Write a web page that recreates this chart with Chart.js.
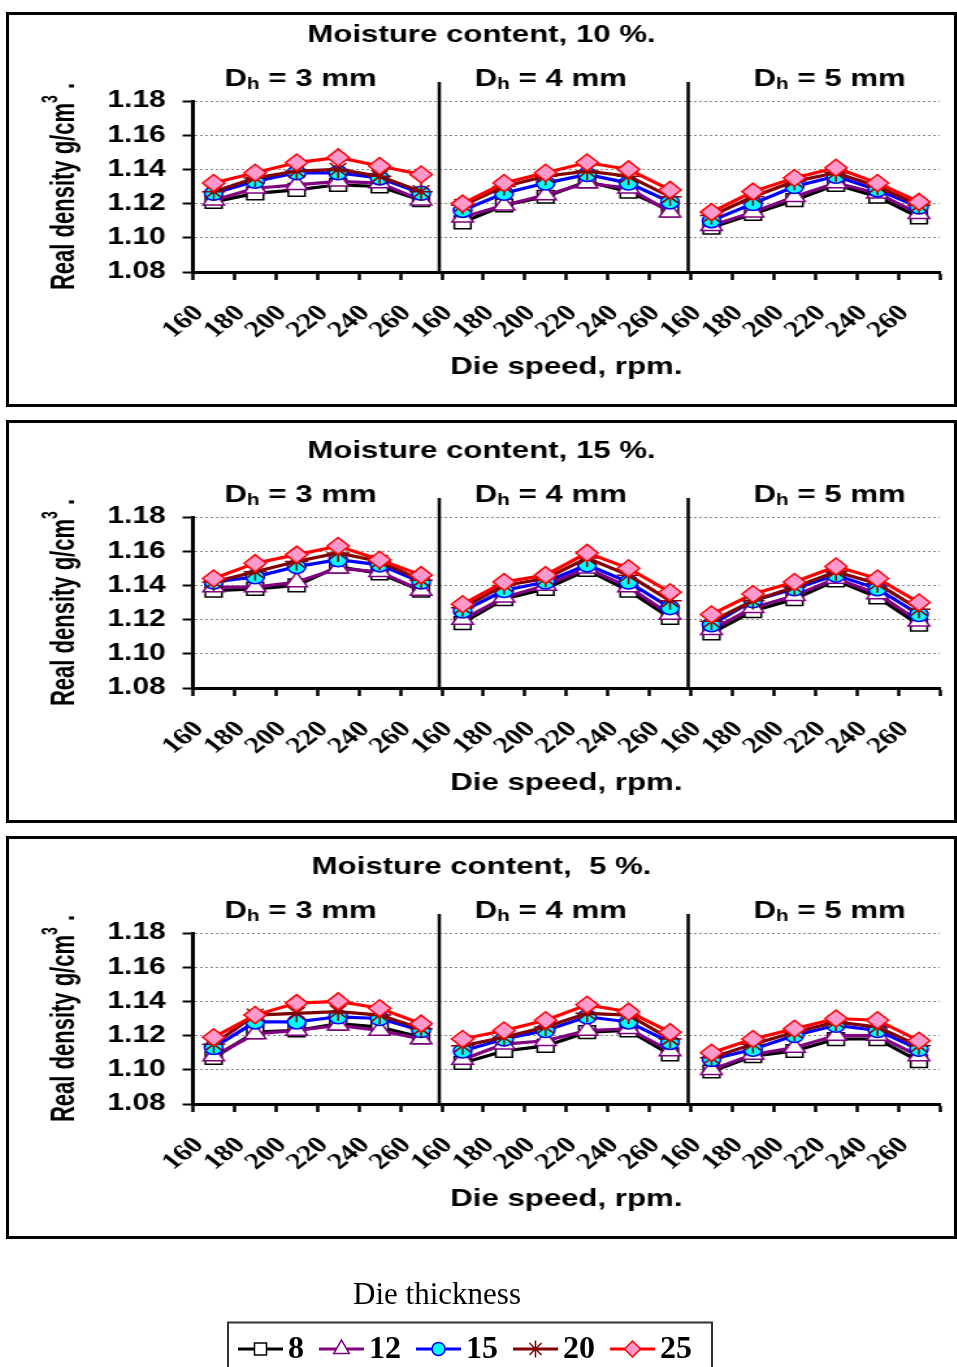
<!DOCTYPE html>
<html>
<head>
<meta charset="utf-8">
<script src="https://cdn.jsdelivr.net/npm/chart.js@4.4.0/dist/chart.umd.min.js"></script>
<style>
  body { margin: 0; background: #fff; width: 957px; height: 1367px; position: relative; overflow: hidden; }
  .box { position: absolute; left: 6px; width: 951px; border: 3px solid #000; box-sizing: border-box; }
  canvas { position: absolute; }
</style>
</head>
<body>
<div class="box" style="top:12px;height:395px"></div>
<div class="box" style="top:420px;height:403px"></div>
<div class="box" style="top:836px;height:403px"></div>
<canvas id="mc10" width="727" height="387" style="left:9px;top:16px;width:945px;height:387px"></canvas>
<canvas id="mc15" width="727" height="387" style="left:9px;top:432px;width:945px;height:387px"></canvas>
<canvas id="mc5" width="727" height="387" style="left:9px;top:848px;width:945px;height:387px"></canvas>
<canvas id="legend" width="957" height="105" style="left:0;top:1262px;width:957px;height:105px"></canvas>
<script>
const speeds = ['160', '180', '200', '220', '240', '260'];
const dieSizes = ['3', '4', '5'];
const thickness = ['8', '12', '15', '20', '25'];

// real density, each array = Dh 3 mm | Dh 4 mm | Dh 5 mm
const mc10_t8  = [1.121, 1.126, 1.128, 1.131, 1.130, 1.122,  1.109, 1.119, 1.124, 1.133, 1.127, 1.116,  1.106, 1.114, 1.122, 1.131, 1.124, 1.112];
const mc10_t12 = [1.122, 1.129, 1.131, 1.133, 1.132, 1.122,  1.112, 1.119, 1.125, 1.132, 1.129, 1.115,  1.107, 1.115, 1.124, 1.132, 1.126, 1.114];
const mc10_t15 = [1.126, 1.133, 1.138, 1.138, 1.135, 1.126,  1.116, 1.126, 1.132, 1.137, 1.132, 1.121,  1.110, 1.120, 1.130, 1.136, 1.128, 1.118];
const mc10_t20 = [1.127, 1.135, 1.139, 1.140, 1.136, 1.127,  1.119, 1.130, 1.136, 1.139, 1.136, 1.124,  1.113, 1.124, 1.133, 1.138, 1.130, 1.119];
const mc10_t25 = [1.132, 1.138, 1.144, 1.147, 1.142, 1.137,  1.120, 1.132, 1.138, 1.144, 1.140, 1.128,  1.115, 1.127, 1.135, 1.141, 1.132, 1.121];

const mc15_t8  = [1.137, 1.138, 1.140, 1.151, 1.147, 1.137,  1.118, 1.132, 1.138, 1.149, 1.137, 1.121,  1.112, 1.125, 1.132, 1.143, 1.133, 1.117];
const mc15_t12 = [1.139, 1.139, 1.142, 1.150, 1.148, 1.137,  1.120, 1.133, 1.140, 1.150, 1.139, 1.123,  1.114, 1.127, 1.134, 1.144, 1.135, 1.119];
const mc15_t15 = [1.142, 1.145, 1.151, 1.155, 1.152, 1.142,  1.125, 1.137, 1.142, 1.152, 1.142, 1.127,  1.117, 1.131, 1.138, 1.146, 1.138, 1.123];
const mc15_t20 = [1.142, 1.148, 1.154, 1.159, 1.154, 1.143,  1.127, 1.140, 1.144, 1.156, 1.146, 1.131,  1.119, 1.131, 1.139, 1.148, 1.141, 1.126];
const mc15_t25 = [1.144, 1.153, 1.158, 1.163, 1.155, 1.146,  1.129, 1.142, 1.146, 1.159, 1.150, 1.136,  1.123, 1.135, 1.142, 1.151, 1.144, 1.130];

const mc5_t8  = [1.107, 1.122, 1.123, 1.127, 1.125, 1.119,  1.104, 1.111, 1.114, 1.122, 1.123, 1.109,  1.099, 1.108, 1.111, 1.118, 1.118, 1.105];
const mc5_t12 = [1.108, 1.121, 1.123, 1.126, 1.123, 1.118,  1.106, 1.115, 1.117, 1.123, 1.124, 1.111,  1.100, 1.109, 1.113, 1.120, 1.120, 1.108];
const mc5_t15 = [1.113, 1.128, 1.128, 1.131, 1.130, 1.123,  1.111, 1.118, 1.123, 1.131, 1.128, 1.116,  1.106, 1.112, 1.120, 1.126, 1.123, 1.112];
const mc5_t20 = [1.115, 1.132, 1.133, 1.134, 1.132, 1.124,  1.114, 1.119, 1.125, 1.133, 1.132, 1.118,  1.107, 1.115, 1.122, 1.128, 1.125, 1.114];
const mc5_t25 = [1.119, 1.132, 1.139, 1.140, 1.136, 1.127,  1.118, 1.123, 1.129, 1.138, 1.134, 1.122,  1.110, 1.118, 1.124, 1.130, 1.129, 1.117];

const yTicks = { min: 1.08, max: 1.18, step: 0.02 };

const styles = [
  { line: '#000000', fill: '#FFFFFF', point: 'rect', r: 9 },
  { line: '#800080', fill: '#FFFFFF', point: 'triangle', r: 9.5 },
  { line: '#0000FF', fill: '#00FFFF', point: 'circle', r: 7 },
  { line: '#800000', fill: '#800000', point: 'star', r: 9 },
  { line: '#FF0000', fill: '#FF99CC', point: 'rectRot', r: 8.5 }
];

const xLabels = dieSizes.flatMap(() => speeds);
const SANS = '"Liberation Sans", Arial, sans-serif';
const SERIF = '"Liberation Serif", "Times New Roman", serif';

const panelDecor = {
  id: 'panelDecor',
  afterDraw(chart, args, opts) {
    const { ctx, chartArea: a } = chart;
    const x = chart.scales.x;
    const n = speeds.length;
    ctx.save();
    ctx.fillStyle = '#000';
    ctx.strokeStyle = '#000';
    ctx.textBaseline = 'middle';
    ctx.textAlign = 'center';
    ctx.font = 'bold 24px ' + SANS;
    ctx.fillText(opts.title, chart.width / 2, 19);
    ctx.fillText('Die speed, rpm.', (a.left + a.right) / 2, 351);

    // group separators and D_h labels
    const shift = [-13, -12, 11];
    dieSizes.forEach((d, g) => {
      const first = x.getPixelForValue(g * n);
      const last = x.getPixelForValue(g * n + n - 1);
      if (g > 0) {
        const bx = (x.getPixelForValue(g * n - 1) + first) / 2 - 2;
        ctx.lineWidth = 2.5;
        ctx.beginPath();
        ctx.moveTo(bx, 66);
        ctx.lineTo(bx, a.bottom);
        ctx.stroke();
      }
      const big = 'bold 24px ' + SANS, small = 'bold 16px ' + SANS;
      ctx.font = big; const wD = ctx.measureText('D').width;
      const rest = ' = ' + d + ' mm'; const wR = ctx.measureText(rest).width;
      ctx.font = small; const wh = ctx.measureText('h').width;
      let cx = (first + last) / 2 + shift[g] - (wD + wh + wR) / 2;
      ctx.textAlign = 'left';
      ctx.font = big; ctx.fillText('D', cx, 63); cx += wD;
      ctx.font = small; ctx.fillText('h', cx, 69); cx += wh;
      ctx.font = big; ctx.fillText(rest, cx, 63);
      ctx.textAlign = 'center';
    });

    // y axis title with superscript
    ctx.translate(43, (a.top + a.bottom) / 2);
    ctx.rotate(-Math.PI / 2);
    ctx.scale(1, 1.2);
    const main = 'Real density g/cm', tail = ' .';
    ctx.font = 'bold 22px ' + SANS;
    const wm = ctx.measureText(main).width, wt = ctx.measureText(tail).width;
    ctx.font = 'bold 14px ' + SANS;
    const ws = ctx.measureText('3').width;
    let tx = -(wm + ws + wt) / 2;
    ctx.textAlign = 'left';
    ctx.font = 'bold 22px ' + SANS; ctx.fillText(main, tx, 0); tx += wm;
    ctx.font = 'bold 14px ' + SANS; ctx.fillText('3', tx, -9); tx += ws;
    ctx.font = 'bold 22px ' + SANS; ctx.fillText(tail, tx, 0);
    ctx.restore();
  }
};

function buildPanel(id, title, series) {
  return new Chart(document.getElementById(id), {
    type: 'line',
    data: {
      labels: xLabels,
      datasets: thickness.map((t, i) => ({
        label: t,
        data: series[i],
        order: thickness.length - 1 - i,
        borderColor: styles[i].line,
        borderWidth: 3.2,
        pointStyle: styles[i].point,
        pointRadius: styles[i].r,
        pointBackgroundColor: styles[i].fill,
        pointBorderColor: styles[i].line,
        pointBorderWidth: 1.5,
        tension: 0,
        fill: false,
        segment: {
          borderColor: c => (c.p0DataIndex % speeds.length === speeds.length - 1 ? 'rgba(0,0,0,0)' : undefined)
        }
      }))
    },
    options: {
      responsive: false,
      animation: false,
      events: [],
      layout: { padding: { top: 85, right: 11, left: 0, bottom: 0 } },
      scales: {
        x: {
          offset: true,
          grid: { offset: true, drawOnChartArea: false, drawTicks: true, tickLength: 8, tickColor: '#000', tickWidth: 2.5 },
          border: { color: '#000', width: 3 },
          ticks: {
            autoSkip: false, minRotation: 45, maxRotation: 45, color: '#000',
            font: { family: SERIF, weight: 'bold', size: 23 },
            padding: 20, labelOffset: -11
          },
          afterFit: s => { s.height = 131; s.paddingLeft = 0; s.paddingRight = 0; }
        },
        y: {
          min: yTicks.min,
          max: yTicks.max,
          grid: { color: '#888', lineWidth: 1, tickColor: '#000', tickWidth: 2, tickLength: 8, tickBorderDash: [] },
          border: { color: '#000', width: 3, dash: [2, 2] },
          ticks: {
            stepSize: yTicks.step, color: '#000', padding: 13,
            font: { family: SANS, weight: 'bold', size: 23 },
            callback: v => Number(v).toFixed(2)
          },
          afterFit: s => { s.width = 141.5; s.paddingTop = 0; s.paddingBottom = 0; }
        }
      },
      plugins: {
        legend: { display: false },
        tooltip: { enabled: false },
        panelDecor: { title }
      }
    },
    plugins: [panelDecor]
  });
}

buildPanel('mc10', 'Moisture content, 10 %.', [mc10_t8, mc10_t12, mc10_t15, mc10_t20, mc10_t25]);
buildPanel('mc15', 'Moisture content, 15 %.', [mc15_t8, mc15_t12, mc15_t15, mc15_t20, mc15_t25]);
buildPanel('mc5', 'Moisture content,  5 %.', [mc5_t8, mc5_t12, mc5_t15, mc5_t20, mc5_t25]);

const legendDraw = {
  id: 'legendDraw',
  afterDraw(chart) {
    const ctx = chart.ctx;
    ctx.save();
    ctx.fillStyle = '#000';
    ctx.textBaseline = 'middle';
    ctx.textAlign = 'center';
    ctx.font = '31px ' + SERIF;
    ctx.fillText('Die thickness', 437, 34);
    ctx.strokeStyle = '#333';
    ctx.lineWidth = 2;
    ctx.strokeRect(228, 60.5, 484, 60);
    let x = 238;
    const y = 87;
    chart.data.datasets.forEach(ds => {
      ctx.strokeStyle = ds.borderColor;
      ctx.lineWidth = 3;
      ctx.beginPath();
      ctx.moveTo(x, y);
      ctx.lineTo(x + 45, y);
      ctx.stroke();
      ctx.fillStyle = ds.pointBackgroundColor;
      ctx.strokeStyle = ds.borderColor;
      ctx.lineWidth = 1.5;
      Chart.helpers.drawPoint(ctx, { pointStyle: ds.pointStyle, radius: ds.pointRadius - 0.5, borderWidth: 1.5, rotation: 0 }, x + 22.5, y);
      ctx.fillStyle = '#000';
      ctx.textAlign = 'left';
      ctx.font = 'bold 32px ' + SERIF;
      ctx.fillText(ds.label, x + 50, y + 1);
      x += 50 + ctx.measureText(ds.label).width + 15;
    });
    ctx.restore();
  }
};

new Chart(document.getElementById('legend'), {
  type: 'line',
  data: {
    labels: [],
    datasets: thickness.map((t, i) => ({
      label: t, data: [],
      borderColor: styles[i].line,
      pointStyle: styles[i].point,
      pointRadius: styles[i].r,
      pointBackgroundColor: styles[i].fill
    }))
  },
  options: {
    responsive: false,
    animation: false,
    events: [],
    scales: { x: { display: false }, y: { display: false } },
    plugins: { legend: { display: false }, tooltip: { enabled: false } }
  },
  plugins: [legendDraw]
});
</script>
</body>
</html>
